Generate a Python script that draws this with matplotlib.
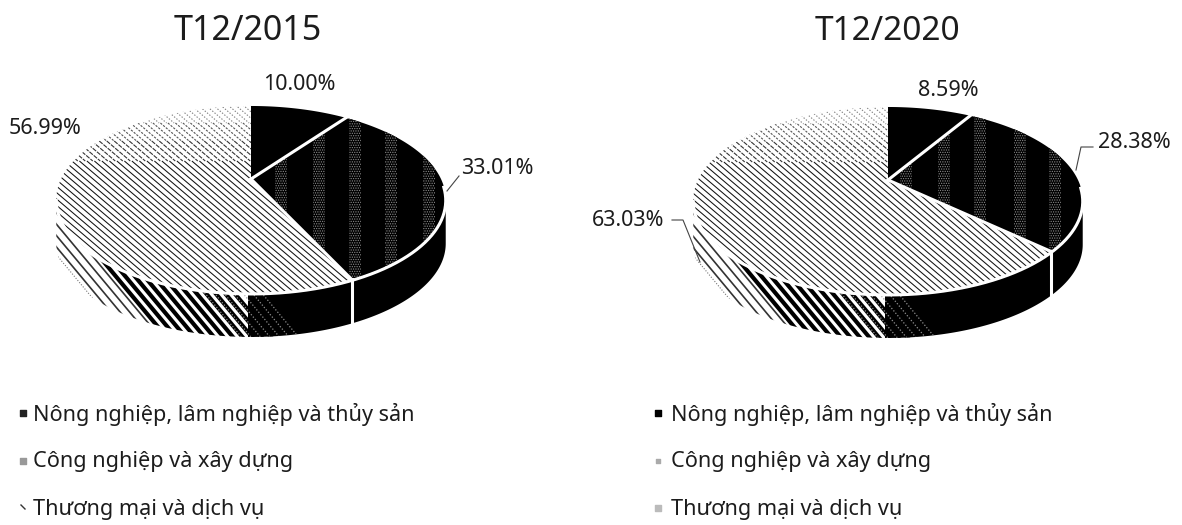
import matplotlib
matplotlib.use('Agg')
import matplotlib.pyplot as plt
from matplotlib.collections import LineCollection
from matplotlib.patches import Polygon, Rectangle
import numpy as np

plt.rcParams['font.family'] = ['Noto Sans', 'DejaVu Sans']
plt.rcParams['hatch.linewidth'] = 0.6

titles = ['T12/2015', 'T12/2020']
categories = ['Nông nghiệp, lâm nghiệp và thủy sản', 'Công nghiệp và xây dựng', 'Thương mại và dịch vụ']
values_2015 = [10.00, 33.01, 56.99]
values_2020 = [8.59, 28.38, 63.03]

RX, RY, K, DEPTH = 190, 89, 0.219, 44
TEXT = '#1c1c1c'


def rim(cx, cy, a0, a1, dy=0):
    th = np.radians(np.linspace(a0, a1, 150))
    w = 1 + K * np.cos(th)
    return np.column_stack((cx + RX * np.sin(th) / w, cy - RY * np.cos(th) / w + dy))


def add_poly(ax, pts, color, z):
    p = Polygon(pts, closed=True, facecolor=color, edgecolor='none', zorder=z)
    ax.add_patch(p)
    return p


def diagonals(ax, clip, x0, x1, y0, y1, step, slope, z, **kw):
    # x0, x1 is the range of the lines at height ym, the slope keeps them in one family
    ym = (y0 + y1) / 2
    segs = [[(c - (ym - y0) / slope, y0), (c + (y1 - ym) / slope, y1)] for c in np.arange(x0, x1, step)]
    lc = LineCollection(segs, zorder=z, **kw)
    ax.add_collection(lc)
    lc.set_clip_path(clip)


def draw_pie(ax, cx, cy, values, band_x):
    b1 = values[0] * 3.6
    b2 = (values[0] + values[1]) * 3.6
    left_end, right_end = 257.4, 102.6
    apex = [(cx, cy)]

    # side wall
    wall2 = np.vstack((rim(cx, cy, right_end, b2), rim(cx, cy, right_end, b2, DEPTH)[::-1]))
    wall3 = np.vstack((rim(cx, cy, b2, left_end), rim(cx, cy, b2, left_end, DEPTH)[::-1]))
    add_poly(ax, wall2, 'black', 2)
    w3 = add_poly(ax, wall3, 'white', 2)
    dark = Rectangle((cx - 3, cy), 400, 200, facecolor='black', edgecolor='none', zorder=2.1)
    ax.add_patch(dark)
    dark.set_clip_path(w3)
    wall_args = (cy + 20, cy + 175, 9.5, 1.2)
    diagonals(ax, w3, cx - 205, cx - 170, *wall_args, 2.2, colors='#777777', linewidths=0.8, linestyles=(0, (1, 1.5)))
    diagonals(ax, w3, cx - 170, cx - 135, *wall_args, 2.2, colors='#333333', linewidths=1.2)
    diagonals(ax, w3, cx - 135, cx - 28, *wall_args, 2.3, colors='black', linewidths=3.0)
    diagonals(ax, w3, cx - 60, cx + 2, *wall_args, 2.4, colors='#8f8f8f', linewidths=0.9, linestyles=(0, (1, 1.5)))

    # top face, the stripes break up toward the back
    t3 = add_poly(ax, np.vstack((apex, rim(cx, cy, b2, 360))), 'white', 3)
    step = 7.5
    diagonals(ax, t3, cx - 260, cx + 260, cy - 18, cy + 125, step, 0.85, 3.1, colors='#111111', linewidths=0.75)
    fades = [(-18, -38, '#333333', (4, 1)), (-38, -56, '#555555', (2, 1.2)), (-56, -74, '#808080', (1.2, 1.5)), (-74, -95, '#999999', (1, 1.8))]
    for y1, y0, col, dash in fades:
        diagonals(ax, t3, cx - 260, cx + 260, cy + y0, cy + y1, step, 0.85, 3.2, colors=col, linewidths=0.8, linestyles=(0, dash))

    add_poly(ax, np.vstack((apex, rim(cx, cy, 0, b1))), 'black', 3)
    t2 = add_poly(ax, np.vstack((apex, rim(cx, cy, b1, b2))), 'black', 3)
    for bx in band_x:
        r = Rectangle((bx - 6, cy - 90), 12, 240, facecolor='black', edgecolor='#8a8a8a', hatch='.......', linewidth=0, zorder=3.3)
        ax.add_patch(r)
        r.set_clip_path(t2)

    # white separators
    full = rim(cx, cy, right_end - 8, left_end)
    ax.plot(full[:, 0], full[:, 1] + 1, color='white', lw=2.2, zorder=4)
    for b in (b1, b2):
        e = rim(cx, cy, b, b)[0]
        ax.plot([cx, e[0]], [cy, e[1]], color='white', lw=2.2, zorder=4)
    e = rim(cx, cy, b2, b2)[0]
    ax.plot([e[0], e[0]], [e[1], e[1] + DEPTH + 1], color='white', lw=2.2, zorder=4)


fig = plt.figure(figsize=(11.82, 5.25), dpi=100)
ax = fig.add_axes([0, 0, 1, 1])
ax.set_xlim(0, 1182)
ax.set_ylim(525, 0)
ax.axis('off')

draw_pie(ax, 251, 179, values_2015, [281, 319, 355, 391, 429])
draw_pie(ax, 888, 180, values_2020, [906, 944, 980, 1020, 1055])

ax.text(248, 31, titles[0], fontsize=24.5, ha='center', va='center', color=TEXT)
ax.text(887, 32, titles[1], fontsize=24, ha='center', va='center', color=TEXT)

label_pos_2015 = [(299, 85), (497, 169), (45, 129)]
label_pos_2020 = [(948, 91), (1134, 142), (628, 220)]
for pos, vals in ((label_pos_2015, values_2015), (label_pos_2020, values_2020)):
    for (x, y), v in zip(pos, vals):
        ax.text(x, y, '{:.2f}%'.format(v), fontsize=15.5, ha='center', va='center', color=TEXT)

ax.plot([447, 459], [191, 176], color='#444444', lw=0.8, zorder=5)
ax.plot([1093, 1081, 1076], [147, 147, 170], color='#444444', lw=0.8, zorder=5)
ax.plot([672, 683, 700], [220, 220, 262], color='#444444', lw=0.8, zorder=5)

legend_y = [414, 462, 510]
for y, name in zip(legend_y, categories):
    ax.text(33, y, name, fontsize=15.6, ha='left', va='center', color=TEXT)
    ax.text(671, y, name, fontsize=15.6, ha='left', va='center', color=TEXT)

ax.scatter([23], [413], marker='s', s=22, color='#222222', zorder=5)
ax.scatter([23], [461], marker='s', s=16, color='#999999', zorder=5)
ax.plot([21, 25], [505, 509], color='#333333', lw=1)
ax.scatter([658], [413], marker='s', s=24, color='black', zorder=5)
ax.scatter([658], [461], marker='s', s=8, color='#aaaaaa', zorder=5)
ax.scatter([658], [508], marker='s', s=14, color='#bbbbbb', zorder=5)

fig.savefig('out.png', dpi=100)
